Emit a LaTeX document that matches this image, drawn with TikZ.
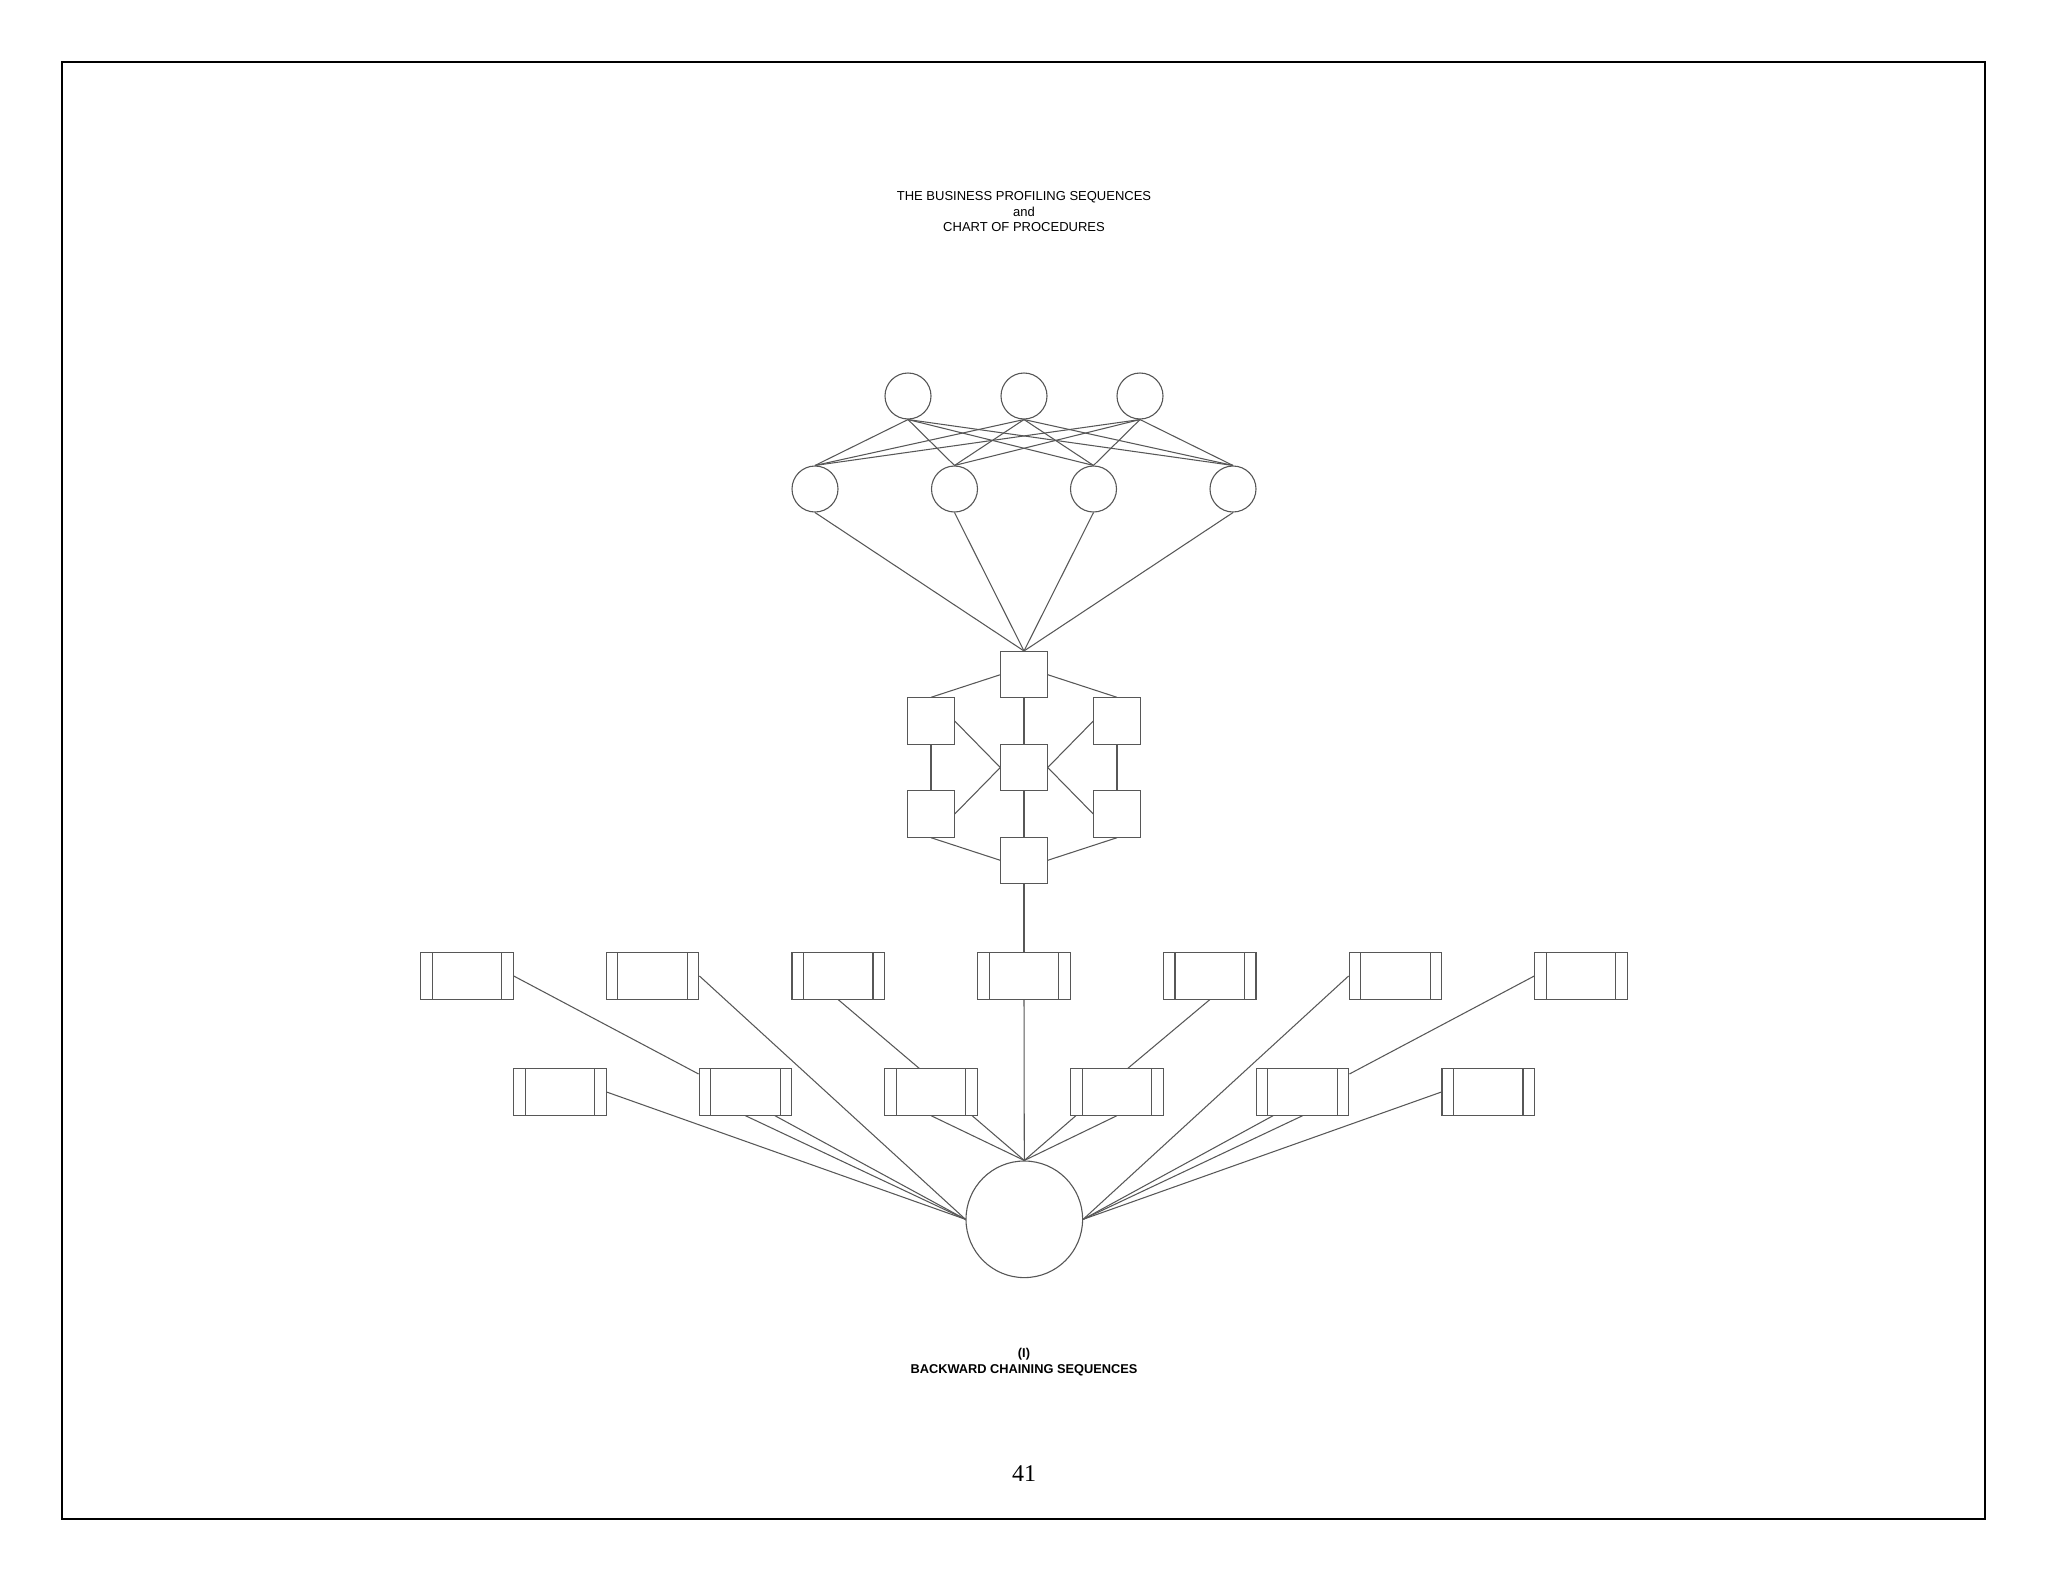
\documentclass[tikz,border=0pt]{standalone}
\usepackage{fontspec}
\setmainfont{Liberation Sans}
\newfontfamily\numfont{Liberation Serif}
\usetikzlibrary{calc}
\begin{document}
\begin{tikzpicture}[x=1pt,y=-1pt,
  ln/.style={draw=black!66,line width=1.1pt},
  circ/.style={circle,ln,minimum size=46pt,inner sep=0pt},
  sq/.style={rectangle,ln,minimum width=46.3pt,minimum height=46.3pt,inner sep=0pt},
  rbox/.style={rectangle,ln,minimum width=92.6pt,minimum height=46.3pt,inner sep=0pt,
     path picture={\draw[black!66,line width=1.1pt]
       ([xshift=11.6pt]path picture bounding box.north west) -- ([xshift=11.6pt]path picture bounding box.south west)
       ([xshift=-11.6pt]path picture bounding box.north east) -- ([xshift=-11.6pt]path picture bounding box.south east);}},
  conn/.style={draw=black!66,line width=1.05pt},
  ttl/.style={font=\fontsize{13}{15.6}\selectfont,anchor=base,inner sep=0pt},
  btl/.style={font=\fontsize{12.8}{15.4}\selectfont\bfseries,anchor=base,inner sep=0pt}]
\useasboundingbox (0,0) rectangle (2048,1582);
\fill[white] (0,0) rectangle (2048,1582);
% frame
\draw[black,line width=2.2pt] (62.3,62.3) rectangle (1985.3,1519.3);
% titles
\node[ttl] (title1) at (1024,200.5) {THE BUSINESS PROFILING SEQUENCES};
\node[ttl] (title2) at (1024,216.5) {and};
\node[ttl] (title3) at (1024,231.8) {CHART OF PROCEDURES};
\node[btl] (sub1) at (1024,1357.5) {(I)};
\node[btl] (sub2) at (1024,1373) {BACKWARD CHAINING SEQUENCES};
\node[anchor=base,inner sep=0pt,font=\numfont\fontsize{24}{28}\selectfont] (pnum) at (1024,1481.5) {41};
% top circles
\node[circ] (t1) at (908,396) {};
\node[circ] (t2) at (1024,396) {};
\node[circ] (t3) at (1140,396) {};
% lower circles
\node[circ] (c1) at (815,489) {};
\node[circ] (c2) at (954.5,489) {};
\node[circ] (c3) at (1093.5,489) {};
\node[circ] (c4) at (1233,489) {};
\foreach \i in {1,2,3}{\foreach \j in {1,2,3,4}{\draw[conn] (t\i.south) -- (c\j.north);}}
% squares
\node[sq] (s1) at (1024,674.7) {};
\node[sq] (sl1) at (931,721) {};
\node[sq] (sr1) at (1117,721) {};
\node[sq] (sm) at (1024,767.5) {};
\node[sq] (sl2) at (931,814) {};
\node[sq] (sr2) at (1117,814) {};
\node[sq] (s2) at (1024,860.3) {};
\foreach \j in {1,2,3,4}{\draw[conn] (c\j.south) -- (s1.north);}
\draw[conn] (s1.west) -- (sl1.north);
\draw[conn] (s1.east) -- (sr1.north);
\draw[conn] (s1.south) -- (sm.north);
\draw[conn] (sl1.south) -- (sl2.north);
\draw[conn] (sr1.south) -- (sr2.north);
\draw[conn] (sl1.east) -- (sm.west);
\draw[conn] (sl2.east) -- (sm.west);
\draw[conn] (sr1.west) -- (sm.east);
\draw[conn] (sr2.west) -- (sm.east);
\draw[conn] (sl2.south) -- (s2.west);
\draw[conn] (sr2.south) -- (s2.east);
\draw[conn] (sm.south) -- (s2.north);
% rectangles
\foreach \k [count=\n] in {-3,-2,-1,0,1,2,3}{\node[rbox] (r\n) at ({1024+\k*185.7},976) {};}
\foreach \k [count=\n] in {-2.5,-1.5,-0.5,0.5,1.5,2.5}{\node[rbox] (b\n) at ({1024+\k*185.7},1092) {};}
% big circle
\node[circle,ln,minimum size=116.6pt,inner sep=0pt] (big) at (1024.3,1219.3) {};
\draw[conn] (s2.south) -- (r4.north);
\draw[conn] (r4.south) -- (big.north);
\draw[conn] (r1.east) -- ([yshift=18pt]b2.west);
\draw[conn] (r2.east) -- (big.west);
\draw[conn] (r3.south) -- ([xshift=-12pt]b3.north);
\draw[conn] (r5.south) -- ([xshift=11pt]b4.north);
\draw[conn] (r6.west) -- (big.east);
\draw[conn] (r7.west) -- ([yshift=18pt]b5.east);
\draw[conn] (b1.east) -- (big.west);
\draw[conn] (b2.south) -- (big.west);
\draw[conn] ([xshift=29.5pt]b2.south) -- (big.west);
\draw[conn] (b3.south) -- (big.north);
\draw[conn] ([xshift=41pt]b3.south) -- (big.north);
\draw[conn] (b4.south) -- (big.north);
\draw[conn] ([xshift=-41pt]b4.south) -- (big.north);
\draw[conn] (b5.south) -- (big.east);
\draw[conn] ([xshift=-29.5pt]b5.south) -- (big.east);
\draw[conn] (b6.west) -- (big.east);
\end{tikzpicture}
\end{document}
